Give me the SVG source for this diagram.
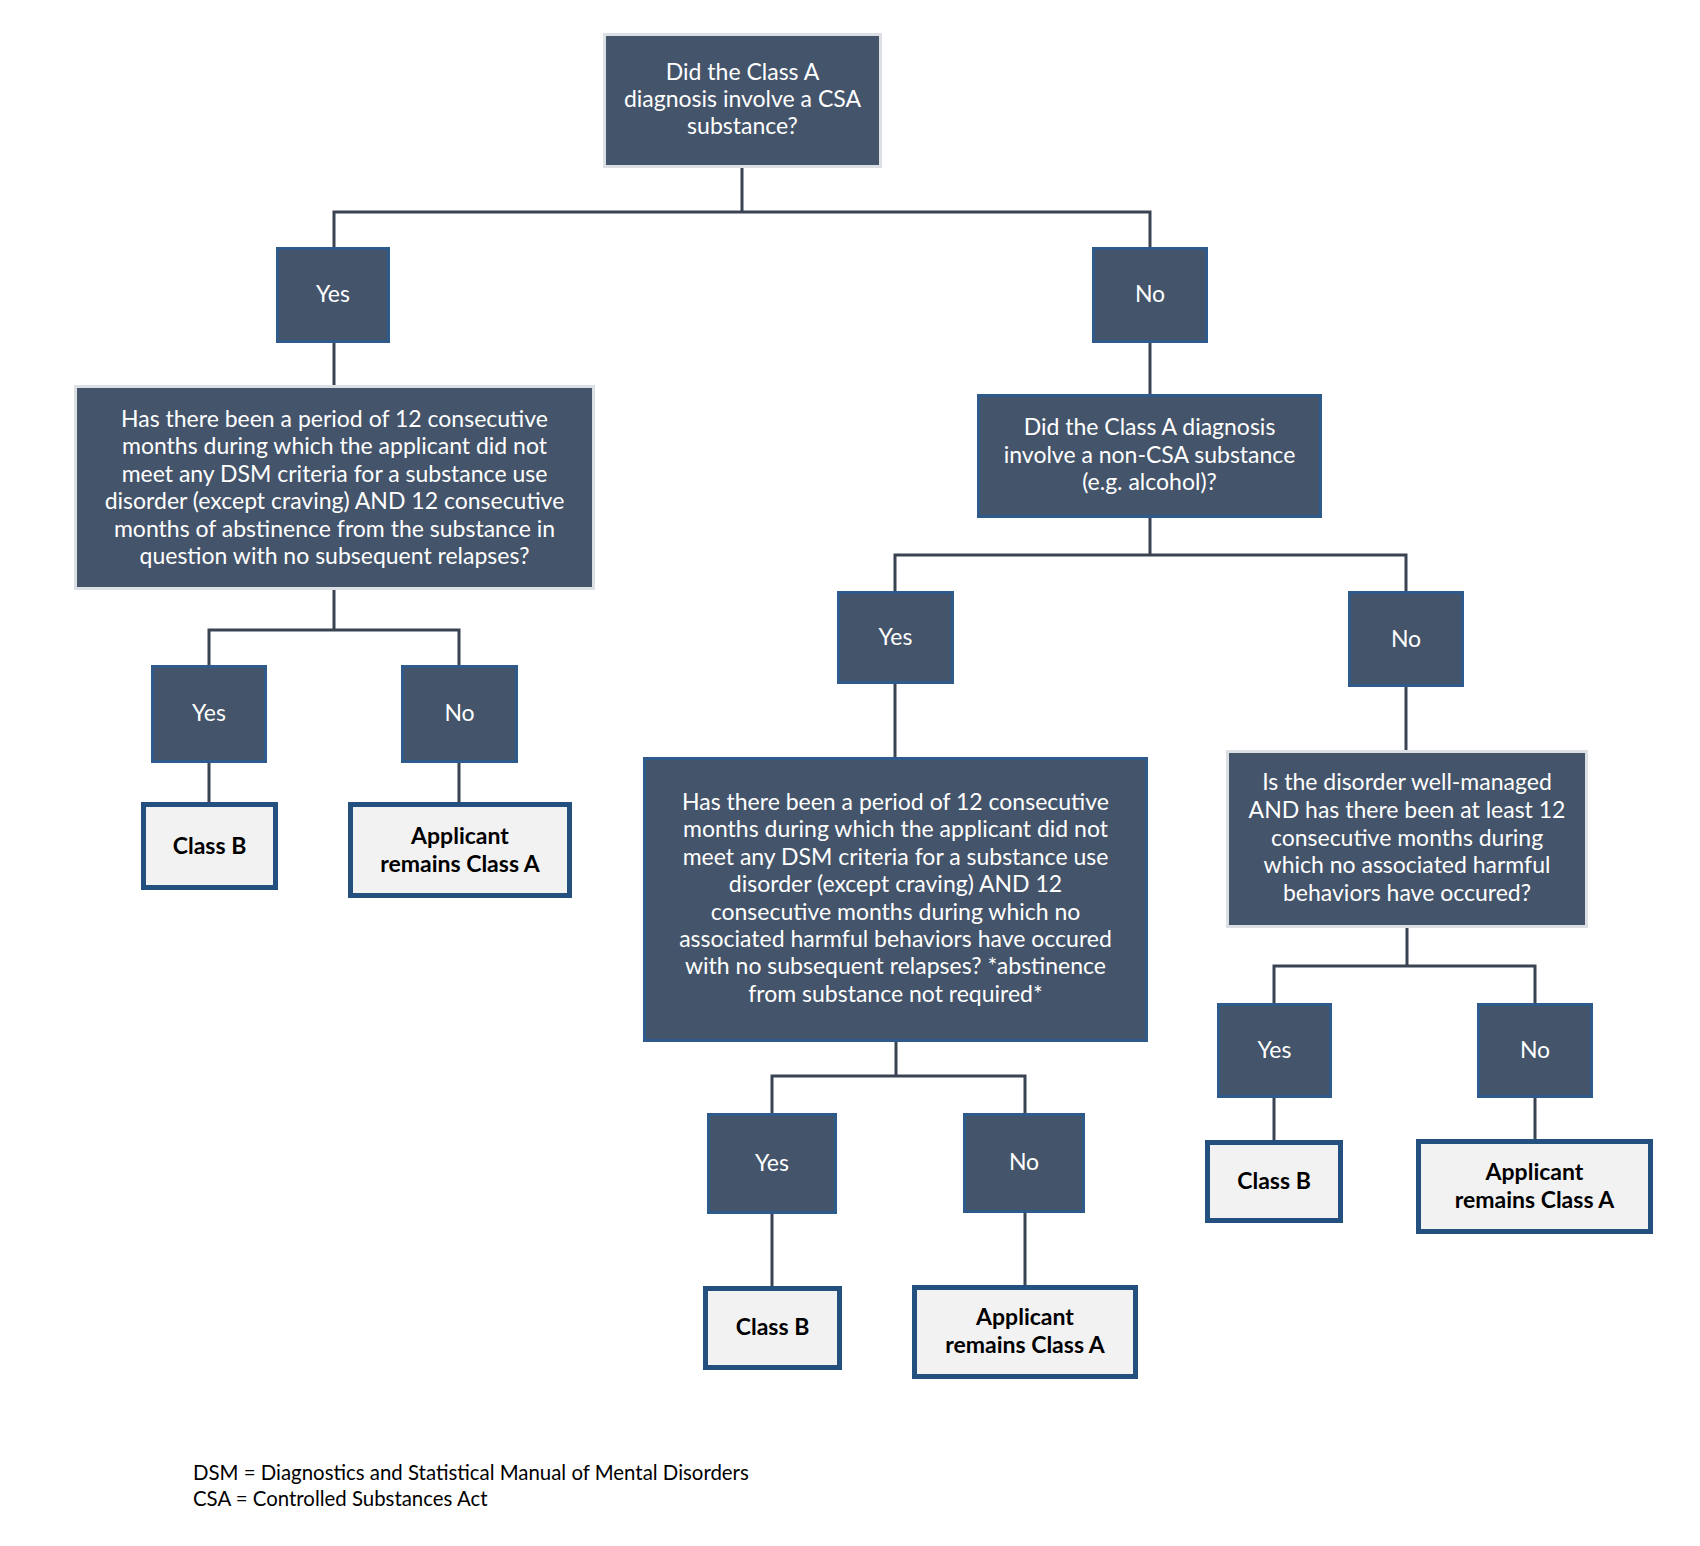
<svg xmlns="http://www.w3.org/2000/svg" width="1700" height="1546" viewBox="0 0 1700 1546">
<style>
.q{fill:#44546A;stroke:#DCDFE4;stroke-width:3}
.qb{fill:#44546A;stroke:#2E5B8C;stroke-width:3}
.yn{fill:#44546A;stroke:#2E5B8C;stroke-width:3}
.res{fill:#F2F2F2;stroke:#24507F;stroke-width:5}
.t{font-family:Lato,"Open Sans","Liberation Sans",sans-serif;font-size:23px;fill:#FFFFFF;text-anchor:middle}
.tb{font-family:Lato,"Open Sans","Liberation Sans",sans-serif;font-size:23px;font-weight:bold;fill:#000000;text-anchor:middle}
.fn{font-family:Lato,"Open Sans","Liberation Sans",sans-serif;font-size:20.4px;fill:#000000}
.c{fill:none;stroke:#3A4352;stroke-width:3}
</style>
<rect width="1700" height="1546" fill="#FFFFFF"/>
<g id="connectors">
<path class="c" d="M742,168 V212 M334,247 V212 H1150 V247"/>
<path class="c" d="M334,343 V385"/>
<path class="c" d="M334,590 V630 M209,665 V630 H459 V665"/>
<path class="c" d="M209,763 V802 M459,763 V802"/>
<path class="c" d="M1150,343 V394"/>
<path class="c" d="M1150,518 V555 M895,591 V555 H1406 V591"/>
<path class="c" d="M895,684 V757"/>
<path class="c" d="M896,1042 V1076 M772,1113 V1076 H1025 V1113"/>
<path class="c" d="M772,1214 V1286 M1025,1213 V1285"/>
<path class="c" d="M1406,687 V750"/>
<path class="c" d="M1407,928 V966 M1274,1003 V966 H1535 V1003"/>
<path class="c" d="M1274,1098 V1140 M1535,1098 V1139"/>
</g>
<g id="q0">
<rect class="q" x="604.5" y="34.5" width="276" height="132"/>
<text class="t" x="742.5" y="80">Did the Class A</text>
<text class="t" x="742.5" y="107">diagnosis involve a CSA</text>
<text class="t" x="742.5" y="134">substance?</text>
</g>
<g id="yes1">
<rect class="yn" x="277.5" y="248.5" width="111" height="93"/>
<text class="t" x="333" y="302">Yes</text>
</g>
<g id="no1">
<rect class="yn" x="1093.5" y="248.5" width="113" height="93"/>
<text class="t" x="1150" y="302">No</text>
</g>
<g id="q1">
<rect class="q" x="75.5" y="386.5" width="518" height="202"/>
<text class="t" x="334.5" y="427">Has there been a period of 12 consecutive</text>
<text class="t" x="334.5" y="454.4">months during which the applicant did not</text>
<text class="t" x="334.5" y="481.8">meet any DSM criteria for a substance use</text>
<text class="t" x="334.5" y="509.2">disorder (except craving) AND 12 consecutive</text>
<text class="t" x="334.5" y="536.6">months of abstinence from the substance in</text>
<text class="t" x="334.5" y="564">question with no subsequent relapses?</text>
</g>
<g id="yes1a">
<rect class="yn" x="152.5" y="666.5" width="113" height="95"/>
<text class="t" x="209" y="721">Yes</text>
</g>
<g id="no1a">
<rect class="yn" x="402.5" y="666.5" width="114" height="95"/>
<text class="t" x="459.5" y="721">No</text>
</g>
<g id="classb1">
<rect class="res" x="143.5" y="804.5" width="132" height="83"/>
<text class="tb" x="209.5" y="854">Class B</text>
</g>
<g id="remain1">
<rect class="res" x="350.5" y="804.5" width="219" height="91"/>
<text class="tb" x="460" y="844">Applicant</text>
<text class="tb" x="460" y="872">remains Class A</text>
</g>
<g id="q2">
<rect class="qb" x="978.5" y="395.5" width="342" height="121"/>
<text class="t" x="1149.5" y="435">Did the Class A diagnosis</text>
<text class="t" x="1149.5" y="463">involve a non-CSA substance</text>
<text class="t" x="1149.5" y="490">(e.g. alcohol)?</text>
</g>
<g id="yes2">
<rect class="yn" x="838.5" y="592.5" width="114" height="90"/>
<text class="t" x="895.5" y="645">Yes</text>
</g>
<g id="no2">
<rect class="yn" x="1349.5" y="592.5" width="113" height="93"/>
<text class="t" x="1406" y="647">No</text>
</g>
<g id="q3">
<rect class="qb" x="644.5" y="758.5" width="502" height="282"/>
<text class="t" x="895.5" y="810">Has there been a period of 12 consecutive</text>
<text class="t" x="895.5" y="837.4">months during which the applicant did not</text>
<text class="t" x="895.5" y="864.8">meet any DSM criteria for a substance use</text>
<text class="t" x="895.5" y="892.2">disorder (except craving) AND 12</text>
<text class="t" x="895.5" y="919.6">consecutive months during which no</text>
<text class="t" x="895.5" y="947">associated harmful behaviors have occured</text>
<text class="t" x="895.5" y="974.4">with no subsequent relapses? *abstinence</text>
<text class="t" x="895.5" y="1001.8">from substance not required*</text>
</g>
<g id="yes3">
<rect class="yn" x="708.5" y="1114.5" width="127" height="98"/>
<text class="t" x="772" y="1171">Yes</text>
</g>
<g id="no3">
<rect class="yn" x="964.5" y="1114.5" width="119" height="97"/>
<text class="t" x="1024" y="1170">No</text>
</g>
<g id="classb3">
<rect class="res" x="705.5" y="1288.5" width="134" height="79"/>
<text class="tb" x="772.5" y="1335">Class B</text>
</g>
<g id="remain3">
<rect class="res" x="914.5" y="1287.5" width="221" height="89"/>
<text class="tb" x="1025" y="1325">Applicant</text>
<text class="tb" x="1025" y="1353">remains Class A</text>
</g>
<g id="q4">
<rect class="q" x="1227.5" y="751.5" width="359" height="175"/>
<text class="t" x="1407" y="790">Is the disorder well-managed</text>
<text class="t" x="1407" y="818">AND has there been at least 12</text>
<text class="t" x="1407" y="846">consecutive months during</text>
<text class="t" x="1407" y="873">which no associated harmful</text>
<text class="t" x="1407" y="901">behaviors have occured?</text>
</g>
<g id="yes4">
<rect class="yn" x="1218.5" y="1004.5" width="112" height="92"/>
<text class="t" x="1274.5" y="1058">Yes</text>
</g>
<g id="no4">
<rect class="yn" x="1478.5" y="1004.5" width="113" height="92"/>
<text class="t" x="1535" y="1058">No</text>
</g>
<g id="classb4">
<rect class="res" x="1207.5" y="1142.5" width="133" height="78"/>
<text class="tb" x="1274" y="1189">Class B</text>
</g>
<g id="remain4">
<rect class="res" x="1418.5" y="1141.5" width="232" height="90"/>
<text class="tb" x="1534.5" y="1180">Applicant</text>
<text class="tb" x="1534.5" y="1208">remains Class A</text>
</g>
<g id="footnote">
<text class="fn" x="193" y="1480">DSM = Diagnostics and Statistical Manual of Mental Disorders</text>
<text class="fn" x="193" y="1506">CSA = Controlled Substances Act</text>
</g>
</svg>
